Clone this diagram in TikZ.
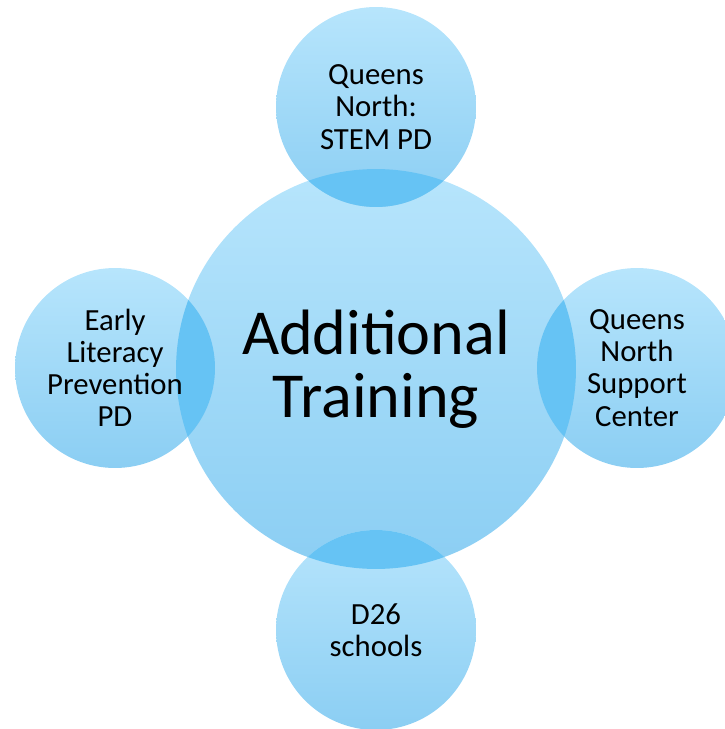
\documentclass[tikz,border=0pt]{standalone}
\usepackage{fontspec}
\setmainfont{Carlito}
\usetikzlibrary{positioning}
\definecolor{bubtop}{HTML}{B7E5FC}
\definecolor{bubbot}{HTML}{8BCEF3}
\definecolor{lensfill}{HTML}{66C3F4}
\tikzset{
 bubble/.style={circle, inner sep=0pt, top color=bubtop, bottom color=bubbot, draw=none},
 big/.style={bubble, minimum size=8cm},
 small/.style={bubble, minimum size=4cm},
 lens/.style={fill=lensfill},
 smalltext/.style={align=center, font=\fontsize{17.5}{18.3}\selectfont},
}

\begin{document}
\begin{tikzpicture} [x=.02cm, y=-.02cm]
\useasboundingbox (0,0) rectangle (724,729);
\node[big] (core) at (376,369) {};
\node[small] (stem) at (376,107) {};
\node[small] (lit) at (115,368) {};
\node[small] (qnsc) at (637,368) {};
\node[small] (dist) at (376,630) {};
% overlaps
\foreach \c in {stem, lit, qnsc, dist}{
 \begin{scope}
 \clip (core.center) circle (4cm);
 \fill[lens] (\c.center) circle (2cm);
 \end{scope}
}
\node[align=center, font=\fontsize{36.5}{36}\selectfont] (coretxt) at (core.center) {Additional\\Training};
\node[smalltext] (stemtxt) at (stem.center) {Queens\\North:\\STEM PD};
\node[smalltext] (littxt) at (lit.center) {Early\\Literacy\\Prevention\\PD};
\node[smalltext] (qnsctxt) at (qnsc.center) {Queens\\North\\Support\\Center};
\node[smalltext] (disttxt) at (dist.center) {D26\\schools};
\end{tikzpicture}
\end{document}
